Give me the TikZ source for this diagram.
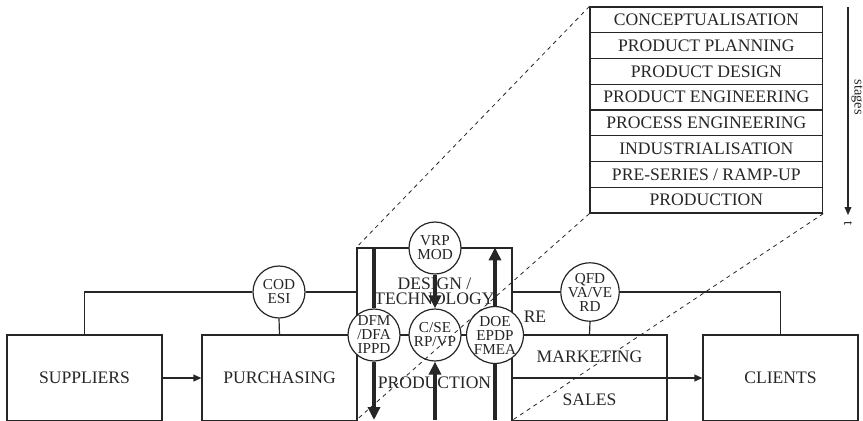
\documentclass[tikz,border=0pt]{standalone}
\usepackage{fontspec}
\setmainfont{Liberation Serif}
\usetikzlibrary{arrows.meta}
\tikzset{
  dept/.style={draw, minimum width=77.5pt, minimum height=43pt, inner sep=0pt, align=center},
  tool/.style={circle, draw, fill=white, minimum size=26pt, inner sep=0pt, align=center, font=\fontsize{7.6}{7}\selectfont},
  stagebox/.style={draw, minimum width=116.35pt, minimum height=12.875pt, inner sep=0pt},
  flow/.style={line width=1.8pt, -{Triangle[length=6.5pt,width=6pt]}},
  link/.style={-{Triangle[length=4pt,width=3.4pt]}},
  persp/.style={dash pattern=on 2pt off 2pt, line width=0.4pt},
}
\begin{document}
\begin{tikzpicture}[x=0.5pt, y=-0.5pt, line width=0.6pt, color=black!85, font=\fontsize{8.8}{7.6}\selectfont]
  \useasboundingbox (0,0) rectangle (863,420);
  \clip (0,0) rectangle (863,420);
  \coordinate (base) at (0,420);
  % departments
  \node[dept] (sup) at (84.5,378) {SUPPLIERS};
  \node[dept] (pur) at (279.5,378) {PURCHASING};
  \node[dept, minimum height=43.5pt] (des) at (434.5,291.5) {DESIGN /\\TECHNOLOGY};
  \node[dept, minimum height=48pt] (prod) at (434.5,383) {PRODUCTION};
  \node[dept, minimum height=21.5pt] (mkt) at (589.5,356.5) {MARKETING};
  \node[dept, minimum height=21.5pt] (sal) at (589.5,399.5) {SALES};
  \node[dept] (cli) at (780.5,378) {CLIENTS};
  \node (re) at (535,317) {RE};
  % tools
  \node[tool] (cod) at (279,292) {COD\\ESI};
  \node[tool] (qfd) at (590,292) {QFD\\VA/VE\\RD};
  \node[tool] (vrp) at (435,248) {VRP\\MOD};
  \node[tool] (dfm) at (374,335) {DFM\\/DFA\\IPPD};
  \node[tool] (cse) at (435,335) {C/SE\\RP/VP};
  \node[tool] (doe) at (495,335) {DOE\\EPDP\\FMEA};
  % links
  \draw (sup.north) |- (cod.west);
  \draw (cod.east) -- (cod.east -| des.west);
  \draw (cod.south) -- (pur.north);
  \draw (qfd.west) -- (qfd.west -| des.east);
  \draw (qfd.east) -| (cli.north);
  \draw (qfd.south) -- (mkt.north);
  \draw[link] (sup.east) -- (pur.west);
  \draw[link] (prod.east |- cli.west) -- (cli.west);
  % flows
  \draw[line width=1.8pt] (des.north -| dfm) -- (dfm.north);
  \draw[flow] (dfm.south) -- (dfm |- base);
  \draw[flow] (vrp.south) -- (cse.north);
  \draw[flow] (cse |- base) -- (cse.south);
  \draw[line width=1.8pt] (doe |- base) -- (doe.south);
  \draw[flow] (doe.north) -- (des.north -| doe);
  % stages
  \foreach \s [count=\i] in {CONCEPTUALISATION, PRODUCT PLANNING, PRODUCT DESIGN, PRODUCT ENGINEERING,
      PROCESS ENGINEERING, INDUSTRIALISATION, PRE-SERIES / RAMP-UP, PRODUCTION}
    \node[stagebox] (s\i) at (706.35,{7+25.75*(\i-0.5)}) {\s};
  \coordinate (tstart) at (848,7);
  \coordinate (tend) at (848,215);
  \draw[link] (tstart) -- (tend);
  \node[rotate=-90, font=\fontsize{7.2}{8}\selectfont] (stg) at (857,97) {stages};
  \node[rotate=-90, font=\fontsize{7.2}{8}\selectfont] (tlab) at (848,223) {t};
  % perspective
  \draw[persp] (s1.north west) -- (des.north west);
  \draw[persp] (s8.south west) -- (des.west |- base);
  \draw[persp] (s8.south east) -- (des.east |- base);
\end{tikzpicture}
\end{document}
